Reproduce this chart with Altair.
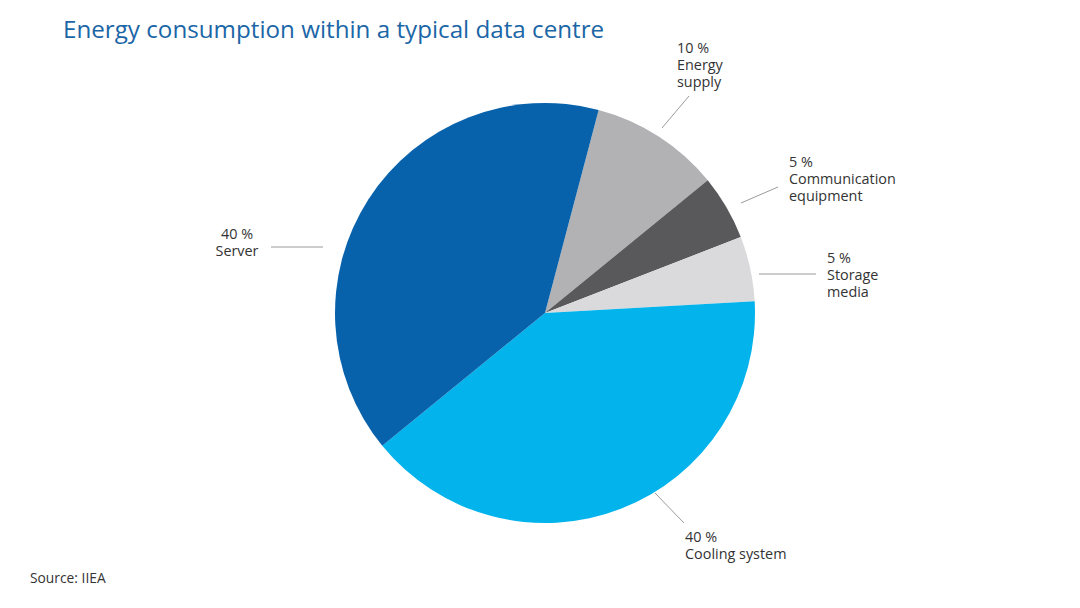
import math
import altair as alt
import pandas as pd

# --- chart data -------------------------------------------------------------
segments = ["Energy supply", "Communication equipment", "Storage media",
            "Cooling system", "Server"]
shares = [10, 5, 5, 40, 40]
colors = ["#b2b2b4", "#59595b", "#dadadc", "#02b3ec", "#0862ab"]
label_lines = [["10 %", "Energy", "supply"],
               ["5 %", "Communication", "equipment"],
               ["5 %", "Storage", "media"],
               ["40 %", "Cooling system"],
               ["40 %", "Server"]]

# --- layout (pixels) --------------------------------------------------------
W, H = 1080, 608
cx, cy, radius = 545, 313, 210
start = math.radians(14.8)          # first slice begins just right of 12 o'clock
label_x = [677, 789, 827, 685, 237]
label_y = [53, 167, 263, 542, 239]
label_align = ["left", "left", "left", "left", "center"]
leader_x = [662, 741, 759, 655, 271]
leader_y = [128, 203, 274, 493, 247]
leader_x2 = [689, 778, 816, 684, 323]
leader_y2 = [96, 187, 274, 523, 247]

FONT = "Open Sans"
TEXT = "#333333"

pie_df = pd.DataFrame({"segment": segments, "share": shares,
                       "idx": list(range(len(segments)))})
lab_df = pd.DataFrame({
    "text": ["\n".join(l) for l in label_lines],
    "x": label_x, "y": label_y, "align": label_align,
})
lead_df = pd.DataFrame({"x": leader_x, "y": leader_y,
                        "x2": leader_x2, "y2": leader_y2})

xs = alt.Scale(domain=[0, W], range=[0, W])
ys = alt.Scale(domain=[0, H], range=[0, H])

pie = alt.Chart(pie_df).mark_arc(outerRadius=radius, stroke=None).encode(
    theta=alt.Theta("share:Q", stack=True,
                    scale=alt.Scale(range=[start, start + 2 * math.pi])),
    color=alt.Color("segment:N", legend=None,
                    scale=alt.Scale(domain=segments, range=colors)),
    order=alt.Order("idx:Q"),
    x=alt.value(cx),
    y=alt.value(cy),
)

leaders = alt.Chart(lead_df).mark_rule(color="#9a9a9a", strokeWidth=1).encode(
    x=alt.X("x:Q", scale=xs, axis=None),
    y=alt.Y("y:Q", scale=ys, axis=None),
    x2="x2:Q",
    y2="y2:Q",
)

def label_layer(align):
    return alt.Chart(lab_df[lab_df["align"] == align]).mark_text(
        font=FONT, fontSize=14.4, color=TEXT, align=align,
        baseline="alphabetic", lineBreak="\n", lineHeight=17,
    ).encode(
        x=alt.X("x:Q", scale=xs, axis=None),
        y=alt.Y("y:Q", scale=ys, axis=None),
        text="text:N",
    )

title = alt.Chart(pd.DataFrame({"t": ["Energy consumption within a typical data centre"]})).mark_text(
    font=FONT, fontSize=24.2, color="#1b66a6", align="left", baseline="alphabetic",
).encode(x=alt.value(63), y=alt.value(38), text="t:N")

source = alt.Chart(pd.DataFrame({"t": ["Source: IIEA"]})).mark_text(
    font=FONT, fontSize=13.8, color=TEXT, align="left", baseline="alphabetic",
).encode(x=alt.value(30), y=alt.value(583), text="t:N")

chart = alt.layer(pie, leaders, label_layer("left"), label_layer("center"),
                  title, source).properties(
    width=W, height=H, padding=0, autosize=alt.AutoSizeParams(type="none"),
    background="white",
).configure_view(stroke=None)

chart.save("out.html", embed_options={"renderer": "svg", "actions": False})
